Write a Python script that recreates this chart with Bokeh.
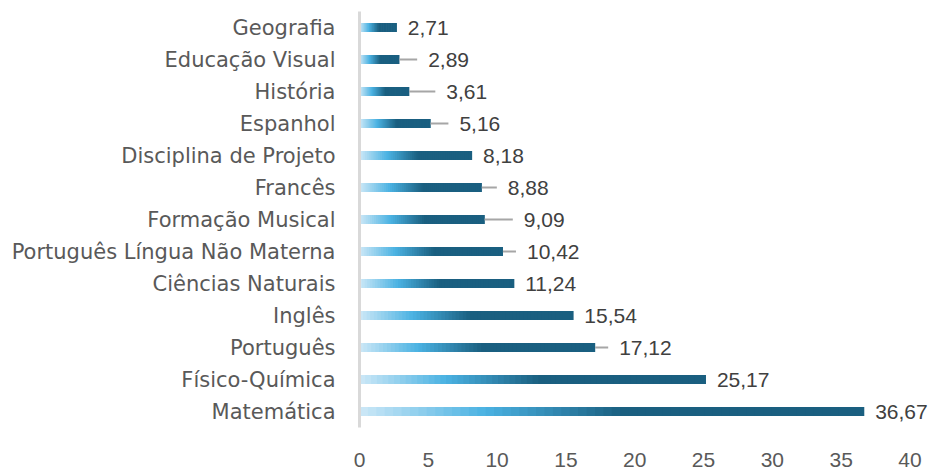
from bokeh.plotting import figure
from bokeh.models import FactorRange, Range1d, ColumnDataSource, LabelSet, FixedTicker
from bokeh.core.properties import value
from bokeh.embed import file_html
from bokeh.resources import INLINE

# ---- data (top to bottom as in the chart) ----
subjects = ["Geografia", "Educação Visual", "História", "Espanhol", "Disciplina de Projeto",
            "Francês", "Formação Musical", "Português Língua Não Materna", "Ciências Naturais",
            "Inglês", "Português", "Físico-Química", "Matemática"]
values = [2.71, 2.89, 3.61, 5.16, 8.18, 8.88, 9.09, 10.42, 11.24, 15.54, 17.12, 25.17, 36.67]
errors = [0.0, 1.3, 1.9, 1.3, 0.0, 1.1, 2.05, 0.95, 0.0, 0.0, 0.95, 0.0, 0.0]
x_ticks = [0, 5, 10, 15, 20, 25, 30, 35, 40]

# gradient stops along each bar (fraction of bar length, colour)
stops = [(0.0, (0xcd, 0xe8, 0xf7)), (0.25, (0x4a, 0xb2, 0xe2)), (0.52, (0x1a, 0x5f, 0x80)), (1.0, (0x1a, 0x5f, 0x80))]

def grad_color(t):
    for (t0, c0), (t1, c1) in zip(stops[:-1], stops[1:]):
        if t <= t1:
            f = 0 if t1 == t0 else (t - t0) / (t1 - t0)
            r, g, b = (round(a + (bb - a) * f) for a, bb in zip(c0, c1))
            return "#%02x%02x%02x" % (r, g, b)
    return "#%02x%02x%02x" % stops[-1][1]

N = 60
seg_y, seg_l, seg_r, seg_c = [], [], [], []
for s, v in zip(subjects, values):
    for i in range(N):
        seg_y.append(s)
        seg_l.append(v * i / N)
        seg_r.append(min(v, v * (i + 2) / N))
        seg_c.append(grad_color((i + 0.5) / N))

p = figure(width=937, height=469, output_backend="svg", toolbar_location=None,
           y_range=FactorRange(factors=list(reversed(subjects))),
           x_range=Range1d(0, 42),
           min_border_left=359, min_border_right=0, min_border_top=11, min_border_bottom=41)
p.outline_line_color = None
p.grid.grid_line_color = None
p.background_fill_color = "white"

p.hbar(y=seg_y, left=seg_l, right=seg_r, height=0.28, fill_color=seg_c, line_color=None)

# error whiskers
ws = ColumnDataSource(dict(y=[s for s, e in zip(subjects, errors) if e > 0],
                           x0=[v for v, e in zip(values, errors) if e > 0],
                           x1=[v + e for v, e in zip(values, errors) if e > 0]))
p.segment(x0="x0", y0="y", x1="x1", y1="y", source=ws, line_color="#a6a6a6", line_width=2)

# value labels
ls = ColumnDataSource(dict(y=subjects, x=[v + e for v, e in zip(values, errors)],
                           t=[("%.2f" % v).replace(".", ",") for v in values]))
p.add_layout(LabelSet(x="x", y="y", text="t", source=ls, x_offset=11, y_offset=0,
                      text_baseline="middle", text_align="left",
                      text_font=value("Liberation Sans"), text_font_size="21px",
                      text_color="#404040"))

# axes
p.yaxis.axis_line_color = "#d9d9d9"
p.yaxis.axis_line_width = 3
p.yaxis.major_tick_line_color = None
p.yaxis.minor_tick_line_color = None
p.yaxis.major_label_standoff = 18
p.yaxis.major_label_text_font = "DejaVu Sans"
p.yaxis.major_label_text_font_size = "21px"
p.yaxis.major_label_text_color = "#595959"

p.xaxis.ticker = FixedTicker(ticks=x_ticks)
p.xaxis.axis_line_color = None
p.xaxis.major_tick_line_color = None
p.xaxis.minor_tick_line_color = None
p.xaxis.major_label_standoff = 19
p.xaxis.major_label_text_font = "Liberation Sans"
p.xaxis.major_label_text_font_size = "21px"
p.xaxis.major_label_text_color = "#595959"

open("out.html", "w").write(file_html(p, INLINE))
